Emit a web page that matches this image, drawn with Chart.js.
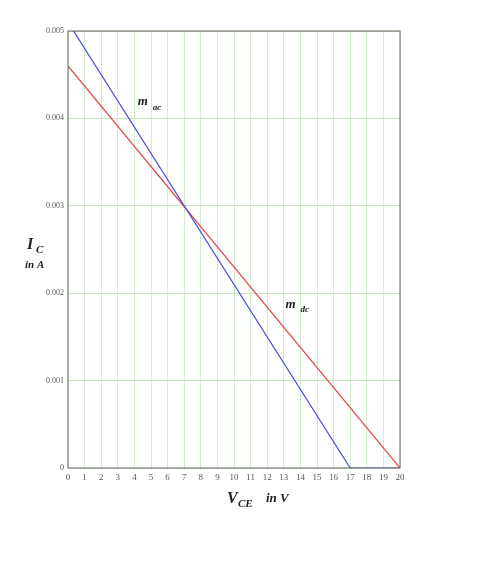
<!DOCTYPE html>
<html lang="en">
<head>
<meta charset="UTF-8" />
<title>Load lines</title>
<script src="https://cdn.jsdelivr.net/npm/chart.js"></script>
<style>
  body { margin: 0; background: #fff; }
  #wrap { width: 493px; height: 578px; }
</style>
</head>
<body>
<div id="wrap"><canvas id="loadChart" width="493" height="578"></canvas></div>
<script>
// data
const vceDc = [0, 20];
const icDc = [0.0046, 0];
const vceAc = [0, 17, 20];
const icAc = [0.0051, 0, 0];
const yTicks = [0, 0.001, 0.002, 0.003, 0.004, 0.005];

const toPoints = (xs, ys) => xs.map((x, i) => ({ x: x, y: ys[i] }));

// titles and line labels drawn on the canvas
const annotations = {
  id: 'annotations',
  afterDraw(chart) {
    const c = chart.ctx, a = chart.chartArea;
    const xs = chart.scales.x, ys = chart.scales.y;
    c.save();
    c.strokeStyle = '#666';
    c.lineWidth = 1;
    c.strokeRect(a.left, a.top, a.right - a.left, a.bottom - a.top);
    c.fillStyle = '#222';
    c.font = 'bold italic 13px "Liberation Serif"';
    c.fillText('m', xs.getPixelForValue(4.2), ys.getPixelForValue(0.00415));
    c.fillText('m', xs.getPixelForValue(13.1), ys.getPixelForValue(0.00183));
    c.font = 'bold italic 9px "Liberation Serif"';
    c.fillText('ac', xs.getPixelForValue(5.1), ys.getPixelForValue(0.00410));
    c.fillText('dc', xs.getPixelForValue(14.0), ys.getPixelForValue(0.00178));
    // y title
    c.font = 'bold italic 16px "Liberation Serif"';
    c.fillText('I', 27, 249);
    c.font = 'bold italic 11px "Liberation Serif"';
    c.fillText('C', 36, 253);
    c.fillText('in A', 25, 268);
    // x title
    c.font = 'bold italic 16px "Liberation Serif"';
    c.fillText('V', 227, 503);
    c.font = 'bold italic 11px "Liberation Serif"';
    c.fillText('CE', 238, 507);
    c.font = 'bold italic 13px "Liberation Serif"';
    c.fillText('in V', 266, 502);
    c.restore();
  }
};

new Chart(document.getElementById('loadChart'), {
  type: 'scatter',
  data: {
    datasets: [
      { data: toPoints(vceAc, icAc), showLine: true, borderColor: '#4a4ae0', borderWidth: 1.2, pointRadius: 0, tension: 0 },
      { data: toPoints(vceDc, icDc), showLine: true, borderColor: '#e04848', borderWidth: 1.2, pointRadius: 0, tension: 0 }
    ]
  },
  options: {
    responsive: false,
    animation: false,
    layout: { padding: { top: 31, right: 93, left: 0, bottom: 0 } },
    plugins: { legend: { display: false }, tooltip: { enabled: false } },
    scales: {
      x: {
        type: 'linear', min: 0, max: 20,
        afterFit: s => { s.height = 110; },
        grid: { color: '#d4ecd0', drawTicks: false },
        border: { display: false },
        ticks: {
          stepSize: 1, padding: 4, color: '#555',
          font: { family: 'Liberation Serif', size: 9 },
          callback: v => v
        }
      },
      y: {
        type: 'linear', min: 0, max: 0.005,
        afterFit: s => { s.width = 68; },
        afterBuildTicks: s => { s.ticks = yTicks.map(v => ({ value: v })); },
        grid: { color: '#c8e8c0', drawTicks: false },
        border: { display: false },
        ticks: {
          padding: 4, color: '#555',
          font: { family: 'Liberation Serif', size: 8 },
          callback: v => v === 0 ? '0' : v.toFixed(3)
        }
      }
    }
  },
  plugins: [annotations]
});
</script>
</body>
</html>
